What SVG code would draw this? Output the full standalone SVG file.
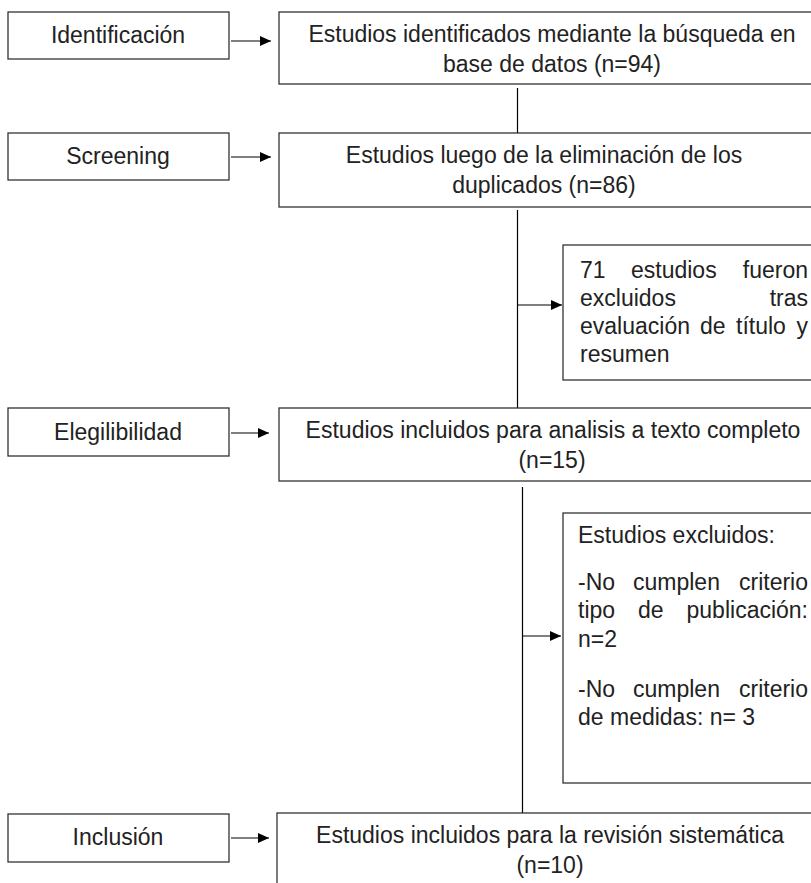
<svg xmlns="http://www.w3.org/2000/svg" width="811" height="883" viewBox="0 0 811 883">
<defs>
<marker id="ah" markerUnits="userSpaceOnUse" markerWidth="12" markerHeight="10" refX="11" refY="5" orient="auto">
<path d="M0,0 L11,5 L0,10 Z" fill="#000"/>
</marker>
<style>
.box{fill:#fff;stroke:#333;stroke-width:1.3}
.t{font-family:"Liberation Sans",Arial,sans-serif;font-size:23px;fill:#222}
.c{text-anchor:middle}
.e{text-anchor:end}
.ln{stroke:#000;stroke-width:1.2;fill:none}
</style>
</defs>
<rect width="811" height="883" fill="#fff"/>

<g id="connectors">
<line class="ln" x1="517.5" y1="88" x2="517.5" y2="133"/>
<line class="ln" x1="517.5" y1="210" x2="517.5" y2="408"/>
<line class="ln" x1="522.5" y1="487" x2="522.5" y2="813"/>
<line class="ln" x1="231" y1="41" x2="271" y2="41" marker-end="url(#ah)"/>
<line class="ln" x1="231" y1="157" x2="271" y2="157" marker-end="url(#ah)"/>
<line class="ln" x1="231" y1="433" x2="269" y2="433" marker-end="url(#ah)"/>
<line class="ln" x1="231" y1="838" x2="269" y2="838" marker-end="url(#ah)"/>
<line class="ln" x1="517.5" y1="305" x2="562" y2="305" marker-end="url(#ah)"/>
<line class="ln" x1="522.5" y1="636" x2="561" y2="636" marker-end="url(#ah)"/>
</g>

<g id="identificacion">
<rect class="box" x="8" y="12" width="221" height="47"/>
<text class="t c" x="118" y="43">Identificación</text>
</g>
<g id="screening">
<rect class="box" x="8" y="133" width="221" height="47"/>
<text class="t c" x="118" y="164">Screening</text>
</g>
<g id="elegibilidad">
<rect class="box" x="8" y="408" width="221" height="48"/>
<text class="t c" x="118" y="440">Elegilibilidad</text>
</g>
<g id="inclusion">
<rect class="box" x="8" y="814" width="221" height="48"/>
<text class="t c" x="118" y="845">Inclusión</text>
</g>

<g id="estudios-identificados">
<rect class="box" x="279" y="12" width="560" height="72"/>
<text class="t c" x="552" y="42">Estudios identificados mediante la búsqueda en</text>
<text class="t c" x="552" y="72">base de datos (n=94)</text>
</g>
<g id="estudios-duplicados">
<rect class="box" x="279" y="133" width="560" height="74"/>
<text class="t c" x="544" y="163">Estudios luego de la eliminación de los</text>
<text class="t c" x="544" y="193">duplicados (n=86)</text>
</g>
<g id="excluidos-titulo">
<rect class="box" x="563" y="245" width="270" height="135"/>
<text class="t" x="580" y="278">71</text>
<text class="t" x="631" y="278">estudios</text>
<text class="t e" x="808" y="278">fueron</text>
<text class="t" x="580" y="306">excluidos</text>
<text class="t e" x="808" y="306">tras</text>
<text class="t" x="580" y="334">evaluación</text>
<text class="t" x="700" y="334">de</text>
<text class="t" x="736" y="334">título</text>
<text class="t e" x="808" y="334">y</text>
<text class="t" x="580" y="362">resumen</text>
</g>
<g id="texto-completo">
<rect class="box" x="279" y="408" width="560" height="73"/>
<text class="t c" x="553" y="438">Estudios incluidos para analisis a texto completo</text>
<text class="t c" x="552" y="468">(n=15)</text>
</g>
<g id="excluidos-criterios">
<rect class="box" x="563" y="513" width="270" height="270"/>
<text class="t" x="578" y="543">Estudios excluidos:</text>
<text class="t" x="578" y="590">-No</text>
<text class="t" x="633" y="590">cumplen</text>
<text class="t e" x="808" y="590">criterio</text>
<text class="t" x="578" y="618">tipo</text>
<text class="t" x="638" y="618">de</text>
<text class="t e" x="808" y="618">publicación:</text>
<text class="t" x="578" y="647">n=2</text>
<text class="t" x="578" y="697">-No</text>
<text class="t" x="633" y="697">cumplen</text>
<text class="t e" x="808" y="697">criterio</text>
<text class="t" x="578" y="725">de medidas: n= 3</text>
</g>
<g id="revision-sistematica">
<rect class="box" x="277" y="813" width="560" height="90"/>
<text class="t c" x="550" y="843">Estudios incluidos para la revisión sistemática</text>
<text class="t c" x="550" y="873">(n=10)</text>
</g>
</svg>
